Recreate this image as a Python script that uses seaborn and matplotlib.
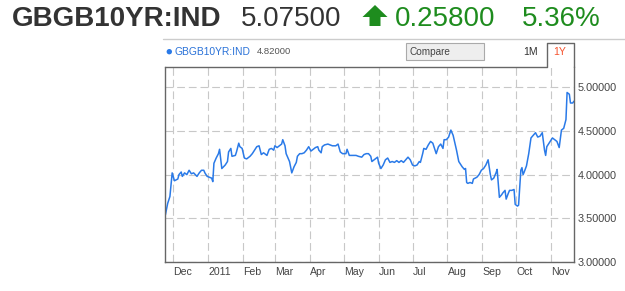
import matplotlib
matplotlib.use("Agg")
import matplotlib.pyplot as plt
from matplotlib.lines import Line2D
from matplotlib.patches import Polygon, Rectangle, Ellipse
import pandas as pd
import seaborn as sns

# ---------------- data ----------------
title_symbol = "GBGB10YR:IND"
last_price = "5.07500"
change_abs = "0.25800"
change_pct = "5.36%"
legend_value = "4.82000"

dates = [
    "2010-11-24", "2010-11-26", "2010-11-28", "2010-11-30", "2010-12-02", "2010-12-05",
    "2010-12-06", "2010-12-08", "2010-12-09", "2010-12-11", "2010-12-13", "2010-12-15",
    "2010-12-17", "2010-12-19", "2010-12-22", "2010-12-24", "2010-12-26", "2010-12-28",
    "2010-12-29", "2010-12-31", "2011-01-02", "2011-01-04", "2011-01-05", "2011-01-06",
    "2011-01-08", "2011-01-10", "2011-01-11", "2011-01-13", "2011-01-16", "2011-01-18",
    "2011-01-19", "2011-01-21", "2011-01-22", "2011-01-25", "2011-01-26", "2011-01-28",
    "2011-01-29", "2011-01-31", "2011-02-02", "2011-02-04", "2011-02-07", "2011-02-09",
    "2011-02-11", "2011-02-13", "2011-02-15", "2011-02-17", "2011-02-19", "2011-02-22",
    "2011-02-24", "2011-02-26", "2011-02-28", "2011-03-01", "2011-03-03", "2011-03-05",
    "2011-03-07", "2011-03-08", "2011-03-10", "2011-03-11", "2011-03-14", "2011-03-16",
    "2011-03-18", "2011-03-20", "2011-03-21", "2011-03-23", "2011-03-25", "2011-03-27",
    "2011-03-29", "2011-03-31", "2011-04-02", "2011-04-04", "2011-04-06", "2011-04-08",
    "2011-04-09", "2011-04-11", "2011-04-12", "2011-04-14", "2011-04-17", "2011-04-19",
    "2011-04-21", "2011-04-24", "2011-04-26", "2011-04-28", "2011-04-30", "2011-05-03",
    "2011-05-04", "2011-05-06", "2011-05-09", "2011-05-12", "2011-05-14", "2011-05-17",
    "2011-05-19", "2011-05-21", "2011-05-23", "2011-05-25", "2011-05-26", "2011-05-29",
    "2011-05-31", "2011-06-01", "2011-06-03", "2011-06-05", "2011-06-07", "2011-06-09",
    "2011-06-11", "2011-06-13", "2011-06-15", "2011-06-17", "2011-06-19", "2011-06-21",
    "2011-06-23", "2011-06-25", "2011-06-27", "2011-06-29", "2011-07-01", "2011-07-03",
    "2011-07-05", "2011-07-07", "2011-07-08", "2011-07-10", "2011-07-11", "2011-07-13",
    "2011-07-15", "2011-07-17", "2011-07-19", "2011-07-20", "2011-07-22", "2011-07-24",
    "2011-07-26", "2011-07-28", "2011-07-29", "2011-07-31", "2011-08-02", "2011-08-04",
    "2011-08-06", "2011-08-09", "2011-08-11", "2011-08-12", "2011-08-14", "2011-08-16",
    "2011-08-17", "2011-08-18", "2011-08-19", "2011-08-21", "2011-08-23", "2011-08-24",
    "2011-08-27", "2011-08-29", "2011-08-31", "2011-09-02", "2011-09-04", "2011-09-06",
    "2011-09-08", "2011-09-09", "2011-09-11", "2011-09-13", "2011-09-14", "2011-09-15",
    "2011-09-16", "2011-09-18", "2011-09-19", "2011-09-21", "2011-09-22", "2011-09-24",
    "2011-09-25", "2011-09-27", "2011-09-29", "2011-09-30", "2011-10-02", "2011-10-03",
    "2011-10-05", "2011-10-06", "2011-10-07", "2011-10-08", "2011-10-10", "2011-10-12",
    "2011-10-14", "2011-10-16", "2011-10-18", "2011-10-20", "2011-10-22", "2011-10-24",
    "2011-10-26", "2011-10-27", "2011-10-28", "2011-10-31", "2011-11-02", "2011-11-04",
    "2011-11-06", "2011-11-08", "2011-11-10", "2011-11-12", "2011-11-14", "2011-11-15",
    "2011-11-17", "2011-11-18", "2011-11-20", "2011-11-21",
]

values = [
    3.54, 3.67, 3.75, 4.02, 3.93, 3.95,
    4.00, 4.03, 3.98, 4.02, 4.00, 4.05,
    4.01, 4.02, 3.98, 4.02, 4.05, 4.05,
    4.02, 3.98, 3.97, 3.96, 3.92, 4.13,
    4.19, 4.24, 4.29, 4.07, 4.11, 4.15,
    4.26, 4.30, 4.21, 4.22, 4.26, 4.36,
    4.32, 4.30, 4.19, 4.18, 4.21, 4.24,
    4.28, 4.32, 4.33, 4.23, 4.25, 4.22,
    4.29, 4.30, 4.28, 4.33, 4.31, 4.33,
    4.35, 4.40, 4.33, 4.24, 4.15, 4.02,
    4.09, 4.14, 4.21, 4.24, 4.24, 4.25,
    4.28, 4.32, 4.27, 4.29, 4.31, 4.32,
    4.28, 4.25, 4.32, 4.34, 4.35, 4.34,
    4.33, 4.33, 4.35, 4.26, 4.24, 4.24,
    4.29, 4.22, 4.22, 4.22, 4.21, 4.20,
    4.23, 4.24, 4.24, 4.21, 4.15, 4.18,
    4.20, 4.13, 4.07, 4.11, 4.17, 4.19,
    4.14, 4.15, 4.14, 4.16, 4.14, 4.16,
    4.14, 4.17, 4.20, 4.17, 4.11, 4.10,
    4.11, 4.15, 4.14, 4.24, 4.30, 4.29,
    4.34, 4.38, 4.36, 4.32, 4.24, 4.32,
    4.35, 4.30, 4.40, 4.40, 4.43, 4.51,
    4.45, 4.28, 4.15, 4.13, 4.09, 4.06,
    4.07, 3.91, 3.90, 3.91, 3.90, 3.95,
    3.97, 4.00, 4.05, 4.07, 4.11, 4.17,
    4.00, 3.94, 3.96, 4.02, 4.06, 3.90,
    3.74, 3.77, 3.79, 3.82, 3.72, 3.79,
    3.82, 3.82, 3.83, 3.66, 3.64, 3.65,
    4.05, 4.08, 4.00, 4.03, 4.10, 4.24,
    4.42, 4.45, 4.48, 4.43, 4.44, 4.48,
    4.28, 4.22, 4.32, 4.38, 4.42, 4.40,
    4.38, 4.31, 4.51, 4.53, 4.63, 4.94,
    4.92, 4.82, 4.82, 4.84,
]

month_ticks = ["2010-12-01", "2011-01-01", "2011-02-01", "2011-03-01", "2011-04-01",
               "2011-05-01", "2011-06-01", "2011-07-01", "2011-08-01", "2011-09-01",
               "2011-10-01", "2011-11-01"]
month_labels = ["Dec", "2011", "Feb", "Mar", "Apr", "May", "Jun", "Jul", "Aug", "Sep",
                "Oct", "Nov"]
y_ticks = [3.0, 3.5, 4.0, 4.5, 5.0]

# ---------------- style ----------------
sns.set_style("white")
plt.rcParams["font.family"] = ["Liberation Sans", "DejaVu Sans"]

W, H = 625, 291
fig = plt.figure(figsize=(W / 100, H / 100), dpi=100)


def fx(px):
    return px / W


def fy(py):
    return 1 - py / H


ax_l, ax_r, ax_t, ax_b = 164.7, 574.0, 67.0, 262.0
ax = fig.add_axes([fx(ax_l), fy(ax_b), fx(ax_r - ax_l), (ax_b - ax_t) / H])

df = pd.DataFrame({"date": pd.to_datetime(dates), "value": values})
line_color = "#2a7ae8"
sns.lineplot(data=df, x="date", y="value", ax=ax, color=line_color, lw=1.1)

ax.set_xlim(pd.Timestamp("2010-11-23 09:00"), pd.Timestamp("2011-11-21 03:00"))
ax.set_ylim(3.0, 5.232)
ax.set_xlabel("")
ax.set_ylabel("")

ax.set_xticks(pd.to_datetime(month_ticks))
ax.set_xticklabels(month_labels)
for lbl in ax.get_xticklabels():
    lbl.set_ha("left")
ax.tick_params(axis="x", length=0, pad=3.5, labelsize=7.6, labelcolor="#444444")

ax.yaxis.tick_right()
ax.set_yticks(y_ticks)
ax.set_yticklabels([f"{v:.5f}" for v in y_ticks])
ax.tick_params(axis="y", length=0, pad=2.5, labelsize=7.8, labelcolor="#444444")

ax.grid(True, color="#c8c8c8", linestyle=(0, (7, 3.5)), lw=0.8)
ax.set_axisbelow(True)

for side in ["left", "bottom", "right"]:
    ax.spines[side].set_visible(True)
    ax.spines[side].set_color("#666666")
    ax.spines[side].set_linewidth(1.0)
ax.spines["top"].set_visible(False)

# top border with the "1Y" tab
tab_l, tab_r, tab_t = 546.7, 574.0, 43.0
fig.add_artist(Line2D([fx(ax_l), fx(tab_l), fx(tab_l), fx(tab_r), fx(tab_r)],
                      [fy(ax_t), fy(ax_t), fy(tab_t), fy(tab_t), fy(ax_t)],
                      color="#666666", lw=1.0))

# header separator line
fig.add_artist(Line2D([fx(163), fx(625)], [fy(38.5), fy(38.5)], color="#cccccc", lw=1.0))

# ---------------- header ----------------
green = "#1e8c1e"
base_y = fy(25.5)
fig.text(fx(12), base_y, title_symbol, fontsize=20, fontweight="bold",
         color="#333333", va="baseline", ha="left")
fig.text(fx(241), base_y, last_price, fontsize=20, color="#333333",
         va="baseline", ha="left")
arrow_px = [(375, 5), (387.5, 17), (380.5, 17), (380.5, 26), (369.5, 26), (369.5, 17), (362.5, 17)]
fig.add_artist(Polygon([(fx(x), fy(y)) for x, y in arrow_px], closed=True,
                       facecolor=green, edgecolor="none", transform=fig.transFigure))
fig.text(fx(395), base_y, change_abs, fontsize=20, color=green, va="baseline", ha="left")
fig.text(fx(522), base_y, change_pct, fontsize=20, color=green, va="baseline", ha="left")

# ---------------- legend row ----------------
fig.add_artist(Ellipse((fx(169.3), fy(51.7)), width=5.4 / W, height=5.4 / H,
                       facecolor=line_color, edgecolor="none", transform=fig.transFigure))
fig.text(fx(174.5), fy(51.7), title_symbol, fontsize=7.4, color="#2a72d8",
         va="center", ha="left")
fig.text(fx(257), fy(51.7), legend_value, fontsize=6.8, color="#555555",
         va="center", ha="left")

fig.add_artist(Rectangle((fx(406), fy(60)), fx(484 - 406), (60 - 43.3) / H,
                         facecolor="#eeeeee", edgecolor="#aaaaaa", lw=0.8,
                         transform=fig.transFigure))
fig.text(fx(409.5), fy(51.9), "Compare", fontsize=7.2, color="#444444",
         va="center", ha="left")
fig.text(fx(530.5), fy(51.9), "1M", fontsize=7.6, color="#333333",
         va="center", ha="center")
fig.text(fx(560), fy(51.9), "1Y", fontsize=7.6, color="#f5522d",
         va="center", ha="center")

fig.savefig("out.png", dpi=100)
